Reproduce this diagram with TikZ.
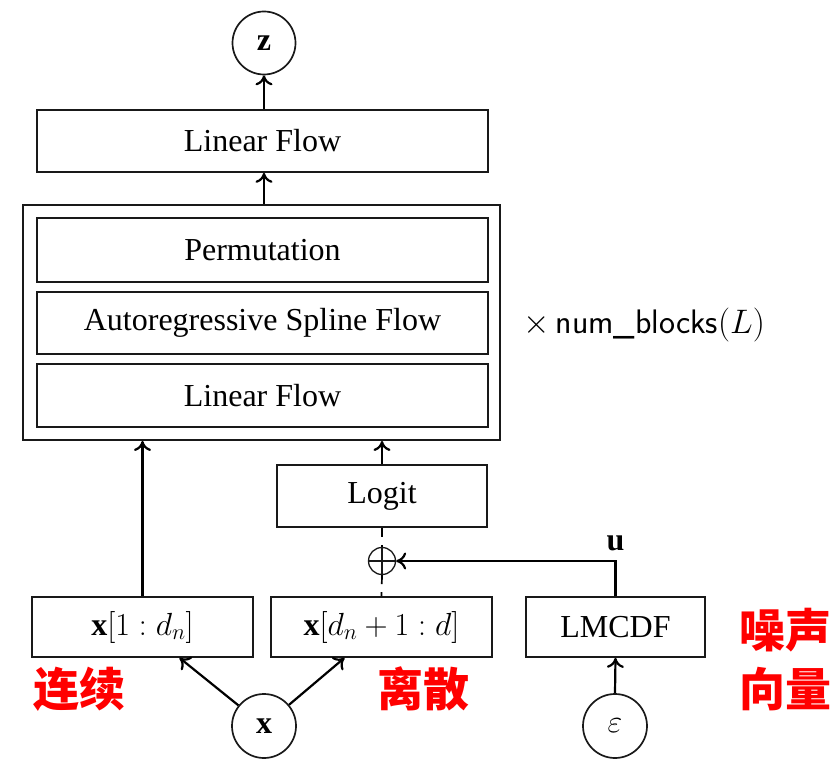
\documentclass[tikz,border=0pt]{standalone}
\usepackage{fix-cm}
\usepackage{fontspec}
\setmainfont{Liberation Serif}
\newfontfamily\cjk{Noto Sans CJK SC}
\usetikzlibrary{arrows.meta,calc}
\definecolor{redlbl}{RGB}{255,0,0}
\definecolor{linegray}{RGB}{25,25,25}
\begin{document}
\begin{tikzpicture}[x=1pt,y=-1pt,
  box/.style={draw=linegray, line width=1.7pt, inner sep=0pt, font=\fontsize{32}{38}\selectfont},
  circ/.style={draw=linegray, circle, minimum size=63pt, inner sep=0pt, line width=1.7pt, font=\fontsize{32}{38}\selectfont},
  arr/.style={line width=2.2pt, -{Computer Modern Rightarrow[length=10pt,width=17pt]}},
  dsh/.style={line width=1.7pt, dash pattern=on 9pt off 8pt},
  cn/.style={text=redlbl, font=\cjk\bfseries\fontsize{46}{50}\selectfont}
]
\useasboundingbox (0,0) rectangle (833,759);
% top
\node[circ] (zc) at (264,43) {$\mathbf{z}$};
\node[box, minimum width=451pt, minimum height=62pt] (lf1) at (262.5,141) {Linear Flow};
% block
\node[draw=linegray, line width=1.9pt, minimum width=477pt, minimum height=235pt, inner sep=0pt] (outer) at (261.5,322.5) {};
\node[box, minimum width=451pt, minimum height=64pt] (perm) at (262.5,250) {Permutation};
\node[box, minimum width=451pt, minimum height=62pt] (asf) at (262.5,323) {Autoregressive Spline Flow};
\node[box, minimum width=451pt, minimum height=63pt] (lf2) at (262.5,395.5) {Linear Flow};
\node[anchor=west, font=\fontsize{34}{40}\selectfont] (nb) at (520,325) {$\times\,\textsf{num\_blocks}(L)$};
% logit & oplus
\node[box, minimum width=210pt, minimum height=62pt] (logit) at (382,496) {Logit};
\node[draw=linegray, circle, minimum size=27pt, inner sep=0pt, line width=1.3pt,
  path picture={\draw[line width=1.3pt] (path picture bounding box.north) -- (path picture bounding box.south)
  (path picture bounding box.west) -- (path picture bounding box.east);}] (op) at (382,561) {};
% inputs
\node[box, minimum width=221pt, minimum height=60pt] (xa) at (142.5,627) {$\mathbf{x}[1:d_n]$};
\node[box, minimum width=221pt, minimum height=60pt] (xb) at (381.5,627) {$\mathbf{x}[d_n+1:d]$};
\node[box, minimum width=179pt, minimum height=60pt] (lm) at (615.5,627) {LMCDF};
\node[circ, minimum size=64pt] (xc) at (264,726) {$\mathbf{x}$};
\node[circ, minimum size=64pt] (ec) at (615,726) {$\varepsilon$};
% labels
\node[cn] (l1) at (80,689) {连续};
\node[cn] (l2) at (423,689) {离散};
\node[cn] (l3) at (785,630) {噪声};
\node[cn] (l4) at (785,689) {向量};
% connectors
\draw[arr] (lf1.north -| zc) -- (zc.south);
\draw[arr] (outer.north -| zc) -- (lf1.south -| zc);
\draw[arr] (xa.north) -- (xa.north |- outer.south);
\draw[arr] (logit.north) -- (logit.north |- outer.south);
\draw[dsh] (logit.south) -- (op.north);
\draw[dsh] (op.south) -- (xb.north);
\coordinate (corner) at (lm.north |- op);
\draw[arr] (lm.north) -- (corner) -- (op.east);
\node[inner sep=0pt, anchor=south, font=\fontsize{32}{38}\selectfont] (u) at ($(corner)+(0,-10)$) {$\mathbf{u}$};
\coordinate (xaIn) at ($(xa.south)+(37,0)$);
\coordinate (xbIn) at ($(xb.south)+(-37,0)$);
\draw[arr] (xc) -- (xaIn);
\draw[arr] (xc) -- (xbIn);
\draw[arr] (ec.north) -- (lm.south);
\end{tikzpicture}
\end{document}
